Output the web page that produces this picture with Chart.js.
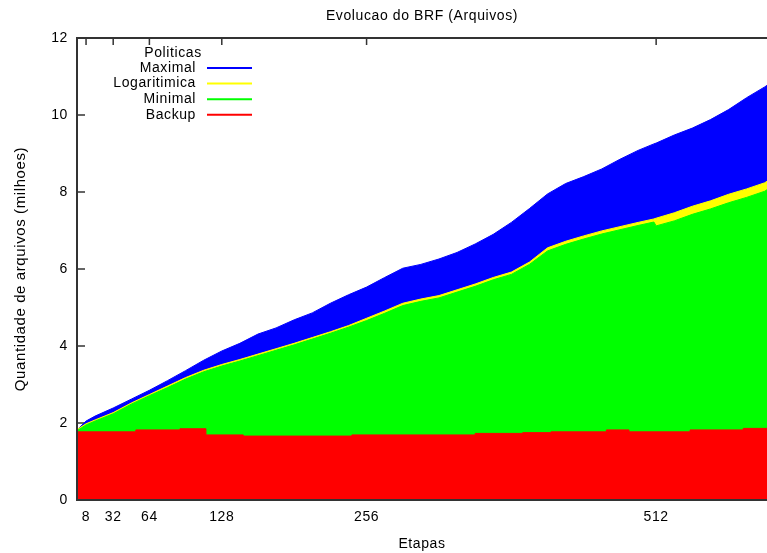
<!DOCTYPE html>
<html>
<head>
<meta charset="utf-8">
<script src="https://cdn.jsdelivr.net/npm/chart.js@4"></script>
<style>
  html, body { margin: 0; padding: 0; background: #fff; overflow: hidden; }
  #box { width: 767px; height: 553px; }
</style>
</head>
<body>
<div id="box"><canvas id="chartBRF"></canvas></div>
<script>
// Etapas (eixo x) e valores, em milhoes de arquivos
const etapas = [0, 8, 16, 32, 48, 64, 80, 96, 112, 128, 144, 160, 176, 192, 208, 224, 240, 256, 272, 288,
  304, 320, 336, 352, 368, 384, 400, 416, 432, 448, 464, 480, 496, 510, 512, 528, 544, 560, 576, 592, 608, 610];

const maximal = [1.82, 2.05, 2.18, 2.39, 2.62, 2.85, 3.10, 3.36, 3.63, 3.87, 4.07, 4.31, 4.47, 4.68, 4.86, 5.11, 5.33, 5.53, 5.78, 6.02,
  6.12, 6.26, 6.43, 6.65, 6.90, 7.21, 7.57, 7.95, 8.22, 8.40, 8.60, 8.85, 9.08, 9.25, 9.27, 9.48, 9.66, 9.88, 10.14, 10.45, 10.73, 10.77];

const logaritimica = [1.83, 1.98, 2.08, 2.27, 2.52, 2.74, 2.96, 3.18, 3.37, 3.52, 3.65, 3.79, 3.93, 4.07, 4.22, 4.37, 4.53, 4.72, 4.91, 5.11,
  5.22, 5.31, 5.46, 5.61, 5.78, 5.92, 6.18, 6.55, 6.72, 6.86, 6.99, 7.10, 7.21, 7.30, 7.32, 7.46, 7.63, 7.77, 7.94, 8.08, 8.24, 8.28];

const minimal = [1.80, 1.95, 2.05, 2.24, 2.49, 2.71, 2.92, 3.14, 3.33, 3.48, 3.61, 3.75, 3.89, 4.03, 4.18, 4.33, 4.49, 4.66, 4.85, 5.05,
  5.16, 5.25, 5.40, 5.55, 5.72, 5.86, 6.12, 6.47, 6.64, 6.78, 6.91, 7.02, 7.13, 7.22, 7.12, 7.25, 7.42, 7.56, 7.72, 7.86, 8.02, 8.06];

// Backup anda em degraus
const backupEtapas = [0, 52, 91, 114, 147, 243, 352, 394, 419, 468, 488, 542, 589, 610];
const backup = [1.77, 1.82, 1.85, 1.69, 1.66, 1.69, 1.73, 1.75, 1.77, 1.82, 1.77, 1.82, 1.86, 1.86];

const marcasX = [8, 32, 64, 128, 256, 512];
const marcasY = [0, 2, 4, 6, 8, 10, 12];

const pontos = (xs, ys) => xs.map((x, i) => ({ x: x, y: ys[i] }));

const fonte = "'Liberation Sans', Arial, sans-serif";
Chart.defaults.font.family = fonte;
Chart.defaults.font.size = 14;
Chart.defaults.color = "#000";

// Moldura estilo gnuplot: ticks para dentro, titulo e legenda
const moldura = {
  id: "moldura",
  beforeDraw(chart) {
    chart.ctx.letterSpacing = "0.6px";
  },
  beforeDatasetsDraw(chart) {
    const { ctx, chartArea: a, scales } = chart;
    ctx.save();
    ctx.strokeStyle = "#333";
    ctx.lineWidth = 1.5;
    ctx.beginPath();
    marcasY.forEach(v => {
      const py = scales.y.getPixelForValue(v);
      ctx.moveTo(a.left, py);
      ctx.lineTo(a.left + 8, py);
    });
    marcasX.forEach(v => {
      const px = scales.x.getPixelForValue(v);
      ctx.moveTo(px, a.top);
      ctx.lineTo(px, a.top + 7);
      ctx.moveTo(px, a.bottom);
      ctx.lineTo(px, a.bottom - 7);
    });
    ctx.stroke();
    ctx.restore();
  },
  afterDatasetsDraw(chart) {
    const { ctx, chartArea: a } = chart;
    ctx.save();
    ctx.strokeStyle = "#333";
    ctx.lineWidth = 2;
    ctx.beginPath();
    ctx.moveTo(a.right + 2, a.top);
    ctx.lineTo(a.left, a.top);
    ctx.lineTo(a.left, a.bottom);
    ctx.lineTo(a.right + 2, a.bottom);
    ctx.stroke();

    ctx.fillStyle = "#000";
    ctx.font = "14px " + fonte;
    ctx.letterSpacing = "0.6px";
    ctx.textBaseline = "middle";

    // titulo
    ctx.textAlign = "center";
    ctx.fillText("Evolucao do BRF (Arquivos)", (a.left + a.right) / 2, 16);

    // legenda
    ctx.fillText("Politicas", a.left + 96, a.top + 15);
    ctx.textAlign = "right";
    chart.data.datasets.forEach((ds, i) => {
      const yy = a.top + 30 + i * 15.6;
      ctx.fillText(ds.label, a.left + 119, yy);
      ctx.strokeStyle = ds.borderColor;
      ctx.lineWidth = 2;
      ctx.beginPath();
      ctx.moveTo(a.left + 130, yy);
      ctx.lineTo(a.left + 175, yy);
      ctx.stroke();
    });
    ctx.restore();
  }
};

const serie = (label, data, cor, ordem, extra) => Object.assign({
  label: label,
  data: data,
  borderColor: cor,
  backgroundColor: cor,
  borderWidth: 1,
  pointRadius: 0,
  fill: "origin",
  tension: 0,
  order: ordem
}, extra || {});

const ctx1 = document.getElementById("chartBRF").getContext("2d");
new Chart(ctx1, {
  type: "line",
  data: {
    datasets: [
      serie("Maximal", pontos(etapas, maximal), "#0000ff", 4),
      serie("Logaritimica", pontos(etapas, logaritimica), "#ffff00", 3),
      serie("Minimal", pontos(etapas, minimal), "#00ff00", 2),
      serie("Backup", pontos(backupEtapas, backup), "#ff0000", 1, { stepped: "before" })
    ]
  },
  options: {
    responsive: true,
    maintainAspectRatio: false,
    animation: false,
    layout: { padding: { top: 38, right: 0, left: 0, bottom: 0 } },
    plugins: {
      legend: { display: false },
      title: { display: false },
      tooltip: { enabled: false }
    },
    scales: {
      x: {
        type: "linear",
        min: 0,
        max: 610,
        grid: { display: false, drawTicks: false },
        border: { display: false },
        ticks: { padding: 9 },
        afterBuildTicks: s => { s.ticks = marcasX.map(v => ({ value: v })); },
        afterFit: s => { s.height = 53; },
        title: { display: true, text: "Etapas", padding: { top: 4, bottom: 0 } }
      },
      y: {
        min: 0,
        max: 12,
        grid: { display: false, drawTicks: false },
        border: { display: false },
        ticks: { padding: 9 },
        afterBuildTicks: s => { s.ticks = marcasY.map(v => ({ value: v })); },
        afterFit: s => { s.width = 77; },
        title: { display: true, text: "Quantidade de arquivos (milhoes)", font: { size: 15 }, padding: { top: 12, bottom: 0 } }
      }
    }
  },
  plugins: [moldura]
});
</script>
</body>
</html>
